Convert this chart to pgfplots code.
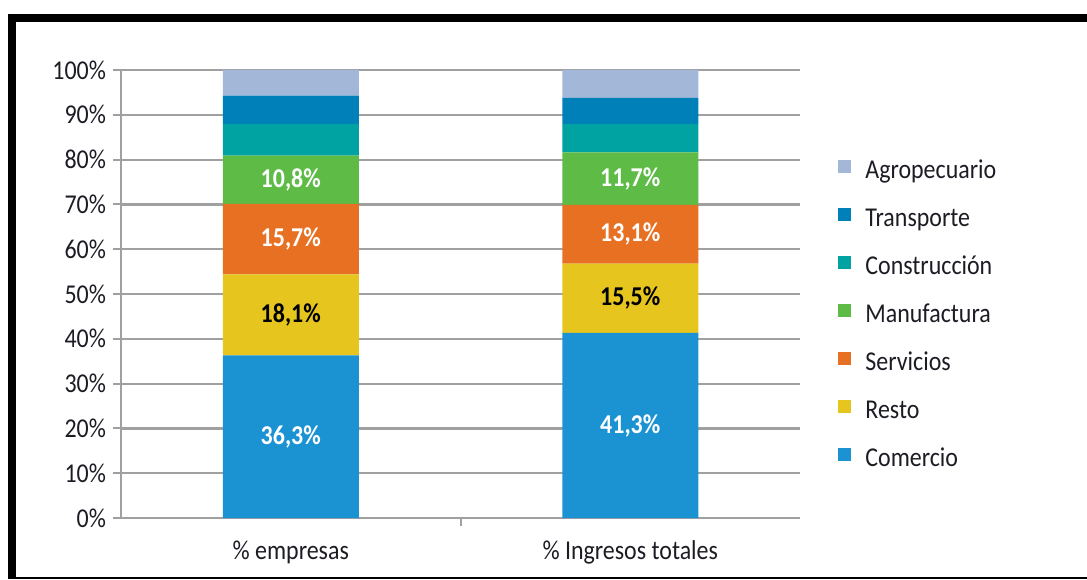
\documentclass[border=0pt]{standalone}
\usepackage{pgfplots}
\pgfplotsset{compat=1.18}
\usepackage{fontspec}
\setmainfont{Carlito}[FakeStretch=0.88]
\definecolor{comercio}{HTML}{1B93D3}
\definecolor{resto}{HTML}{E5C51E}
\definecolor{servicios}{HTML}{E87022}
\definecolor{manufactura}{HTML}{5DBB46}
\definecolor{construccion}{HTML}{00A3A1}
\definecolor{transporte}{HTML}{0080B8}
\definecolor{agro}{HTML}{A3B7D9}
\definecolor{axisgray}{HTML}{A0A0A0}
\definecolor{txt}{HTML}{1C1C24}
\newcommand{\lbl}{\fontsize{13.6}{16}\selectfont}
\pgfplotsset{barlbl/.style={draw=none, mark=none,
  nodes near coords={\pgfmathprintnumber[fixed, fixed zerofill, precision=1, use comma]{\pgfplotspointmeta}\%},
  every node near coord/.style={anchor=center, font=\lbl\bfseries, text=#1}}}
\begin{document}
\begin{tikzpicture}[x=1pt,y=1pt]
\path[use as bounding box] (0,0) rectangle (543.5,289.5);
\fill[black] (4,0) rectangle (8,282.5);
\fill[black] (4,278.5) rectangle (543.5,282.5);
\fill[black] (4,0) rectangle (543.5,1);
\begin{axis}[
  at={(60.5pt,30.5pt)}, anchor=south west,
  scale only axis, width=339.5pt, height=224pt,
  ybar stacked, bar width=68pt,
  xmin=-0.5, xmax=1.5, ymin=0, ymax=100,
  axis x line*=bottom, axis y line*=left,
  axis line style={axisgray, line width=1.1pt, -},
  xtick={0,1}, xticklabels={\% empresas, \% Ingresos totales},
  xtick style={draw=none},
  extra x ticks={0.5}, extra x tick labels={},
  extra x tick style={xtick style={draw=axisgray, line width=1pt}},
  ytick={0,10,...,100},
  yticklabel={\pgfmathprintnumber{\tick}\%},
  ytick style={draw=axisgray, line width=1pt},
  tick align=outside, major tick length=4pt,
  ymajorgrids, grid style={axisgray, line width=1.1pt},
  /pgf/number format/assume math mode=true,
  tick label style={font=\lbl, text=txt},
  xticklabel style={yshift=-4pt},
  legend style={at={(1.056,0.80)}, anchor=north west, draw=none, fill=none,
    font=\lbl, text=txt, inner sep=0pt, column sep=7pt, row sep=12pt,
    nodes={inner sep=0pt, text height=9pt, text depth=3pt}},
  legend cell align=left,
  reverse legend,
  legend image code/.code={\fill[#1] (0pt,-0.5pt) rectangle (6.5pt,6pt);},
]
\addplot[fill=comercio, draw=none] coordinates {(0,36.3) (1,41.3)};
\addlegendentry{Comercio}
\addplot[fill=resto, draw=none] coordinates {(0,18.1) (1,15.5)};
\addlegendentry{Resto}
\addplot[fill=servicios, draw=none] coordinates {(0,15.7) (1,13.1)};
\addlegendentry{Servicios}
\addplot[fill=manufactura, draw=none] coordinates {(0,10.8) (1,11.7)};
\addlegendentry{Manufactura}
\addplot[fill=construccion, draw=none] coordinates {(0,7.1) (1,6.4)};
\addlegendentry{Construcción}
\addplot[fill=transporte, draw=none] coordinates {(0,6.3) (1,5.8)};
\addlegendentry{Transporte}
\addplot[fill=agro, draw=none] coordinates {(0,5.7) (1,6.2)};
\addlegendentry{Agropecuario}
\end{axis}
\begin{axis}[
  at={(60.5pt,30.5pt)}, anchor=south west,
  scale only axis, width=339.5pt, height=224pt,
  hide axis, xmin=-0.5, xmax=1.5, ymin=0, ymax=100,
  /pgf/number format/assume math mode=true,
  point meta=explicit,
]
\addplot[barlbl=white]
  coordinates {(0,18.15) [36.3] (1,20.65) [41.3] (0,62.25) [15.7] (1,63.35) [13.1] (0,75.5) [10.8] (1,75.75) [11.7]};
\addplot[barlbl=black]
  coordinates {(0,45.35) [18.1] (1,49.05) [15.5]};
\end{axis}
\end{tikzpicture}
\end{document}
